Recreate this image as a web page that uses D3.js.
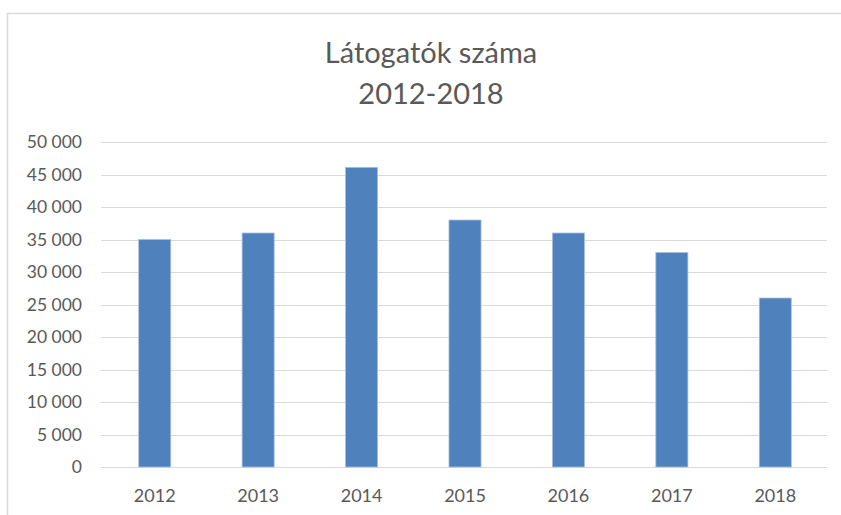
<!DOCTYPE html>
<html>
<head>
<meta charset="utf-8">
<script src="https://cdn.jsdelivr.net/npm/d3@7"></script>
<style>
  body { margin: 0; background: #fff; }
  text { font-family: Lato, "Open Sans", sans-serif; fill: #595959; }
</style>
</head>
<body>
<div id="viz"></div>
<script>
const years = ['2012', '2013', '2014', '2015', '2016', '2017', '2018'];
const visitors = [35000, 36000, 46100, 38000, 36000, 33000, 26000];
const yTicks = [0, 5000, 10000, 15000, 20000, 25000, 30000, 35000, 40000, 45000, 50000];
const titleLines = ['Látogatók száma', '2012-2018'];

const width = 841;
const height = 515;
const margin = {top: 142, right: 14, bottom: 48, left: 103};

const svg = d3.select('#viz')
  .append('svg')
  .attr('width', width)
  .attr('height', height);

// chart frame (cut off at right and bottom like the screenshot)
svg.append('path')
  .attr('d', `M7.5,${height} V13.5 H${width}`)
  .attr('fill', 'none')
  .attr('stroke', '#d9d9d9')
  .attr('stroke-width', 1.5);

svg.selectAll('.title')
  .data(titleLines)
  .join('text')
  .attr('class', 'title')
  .attr('x', 431)
  .attr('y', (d, i) => 63 + i * 41)
  .attr('text-anchor', 'middle')
  .style('font-size', '29px')
  .attr('fill', '#5f5f5f')
  .text(d => d);

const x = d3.scaleBand()
  .domain(years)
  .range([margin.left, width - margin.right])
  .paddingInner(0.69)
  .paddingOuter(0.345);

const y = d3.scaleLinear()
  .domain([0, 50000])
  .range([height - margin.bottom, margin.top]);

const locale = d3.formatLocale({decimal: ',', thousands: ' ', grouping: [3], currency: ['', ' Ft']});
const fmt = locale.format(',d');

// gridlines
svg.append('g')
  .selectAll('line')
  .data(yTicks)
  .join('line')
  .attr('x1', margin.left - 2)
  .attr('x2', width - margin.right)
  .attr('y1', d => Math.round(y(d)) + 0.5)
  .attr('y2', d => Math.round(y(d)) + 0.5)
  .attr('stroke', '#d9d9d9')
  .attr('stroke-width', 1.2);

const yAxis = d3.axisLeft(y).tickValues(yTicks).tickSize(0).tickPadding(0).tickFormat(fmt);
svg.append('g')
  .attr('transform', `translate(82,0)`)
  .call(yAxis)
  .call(g => g.select('.domain').remove())
  .selectAll('text')
  .style('font-size', '17.5px')
  .attr('fill', '#595959');

svg.append('g')
  .selectAll('rect')
  .data(visitors)
  .join('rect')
  .attr('x', (d, i) => x(years[i]))
  .attr('y', d => y(d))
  .attr('width', x.bandwidth())
  .attr('height', d => y(0) - y(d))
  .attr('fill', '#4f81bd')
  .attr('stroke', '#a9c0df')
  .attr('stroke-width', 0.8);

const xAxis = d3.axisBottom(x).tickSize(0).tickPadding(22);
svg.append('g')
  .attr('transform', `translate(0,${height - margin.bottom})`)
  .call(xAxis)
  .call(g => g.select('.domain').remove())
  .selectAll('text')
  .style('font-size', '18px')
  .attr('fill', '#595959');
</script>
</body>
</html>
